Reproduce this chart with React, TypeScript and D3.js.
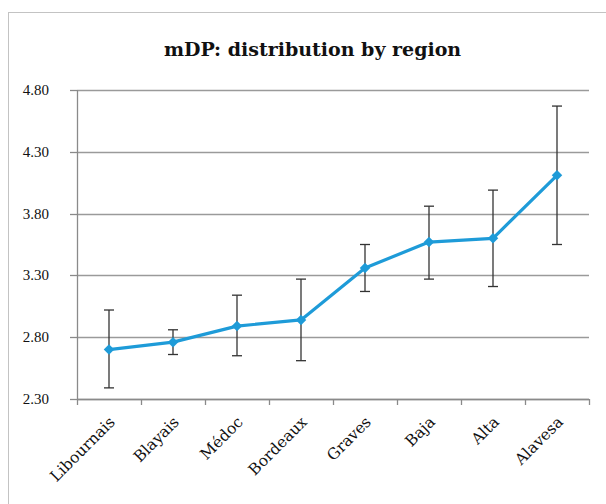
import React from "react";
import * as d3 from "d3";

const categories = ["Libournais", "Blayais", "Médoc", "Bordeaux", "Graves", "Baja", "Alta", "Alavesa"];
const means = [2.70, 2.76, 2.89, 2.94, 3.36, 3.57, 3.60, 4.11];
const upper = [3.02, 2.86, 3.14, 3.27, 3.55, 3.86, 3.99, 4.67];
const lower = [2.39, 2.66, 2.65, 2.61, 3.17, 3.27, 3.21, 3.55];
const yTicks = [2.3, 2.8, 3.3, 3.8, 4.3, 4.8];
const title = "mDP: distribution by region";

const W = 606, H = 504;
const left = 77, right = 589, top = 90, bottom = 399;
const TFONT = "'Liberation Serif', 'Times New Roman', serif";
const LFONT = "'DejaVu Serif', serif";
const BLUE = "#1E9BD8";

export default function App() {
  const x = d3.scaleBand<string>().domain(categories).range([left, right]).padding(0);
  const y = d3.scaleLinear().domain([2.3, 4.8]).range([bottom, top]);
  const cx = (c: string) => (x(c) as number) + x.bandwidth() / 2;
  const line = d3.line<number>().x((_, i) => cx(categories[i])).y((d) => y(d));
  const bounds = [left, ...categories.map((c) => (x(c) as number) + x.bandwidth())];

  return (
    <svg width={W} height={H} style={{ position: "absolute", left: 0, top: 0 }}>
      <rect x={0} y={0} width={W} height={H} fill="#fff" />
      <rect x={8.5} y={12.5} width={700} height={600} fill="#fff" stroke="#c3c3c3" strokeWidth={1} />
      <text x={312.5} y={56} textAnchor="middle" fontSize={19} fontWeight="bold" fill="#111" fontFamily={LFONT}>{title}</text>
      {yTicks.map((t) => (
        <g key={t}>
          <line x1={left} x2={right} y1={Math.round(y(t)) + 0.5} y2={Math.round(y(t)) + 0.5} stroke="#9a9a9a" strokeWidth={1.3} />
          <line x1={70} x2={left} y1={Math.round(y(t)) + 0.5} y2={Math.round(y(t)) + 0.5} stroke="#8a8a8a" strokeWidth={1.3} />
          <text x={49} y={y(t) + 5} textAnchor="end" fontSize={15} fill="#111" fontFamily={TFONT}>{t.toFixed(2)}</text>
        </g>
      ))}
      <line x1={left + 0.5} x2={left + 0.5} y1={top} y2={bottom} stroke="#8a8a8a" strokeWidth={1.3} />
      <line x1={left} x2={right} y1={bottom + 0.5} y2={bottom + 0.5} stroke="#8a8a8a" strokeWidth={1.5} />
      {bounds.map((b, i) => (
        <line key={i} x1={b + 0.5} x2={b + 0.5} y1={bottom} y2={bottom + 6} stroke="#8a8a8a" strokeWidth={1.3} />
      ))}
      {categories.map((c) => (
        <text key={c} transform={`translate(${cx(c) + 7},${bottom + 24}) rotate(-45)`} textAnchor="end" fontSize={15.5} fill="#111" fontFamily={LFONT}>{c}</text>
      ))}
      {categories.map((c, i) => (
        <g key={c} stroke="#333" strokeWidth={1.3}>
          <line x1={cx(c)} x2={cx(c)} y1={y(upper[i])} y2={y(lower[i])} />
          <line x1={cx(c) - 5} x2={cx(c) + 5} y1={y(upper[i])} y2={y(upper[i])} />
          <line x1={cx(c) - 5} x2={cx(c) + 5} y1={y(lower[i])} y2={y(lower[i])} />
        </g>
      ))}
      <path d={line(means) || ""} fill="none" stroke={BLUE} strokeWidth={3.2} strokeLinejoin="round" />
      {categories.map((c, i) => (
        <path key={c} d={d3.symbol().type(d3.symbolDiamond2).size(70)() || ""} transform={`translate(${cx(c)},${y(means[i])})`} fill={BLUE} />
      ))}
    </svg>
  );
}
